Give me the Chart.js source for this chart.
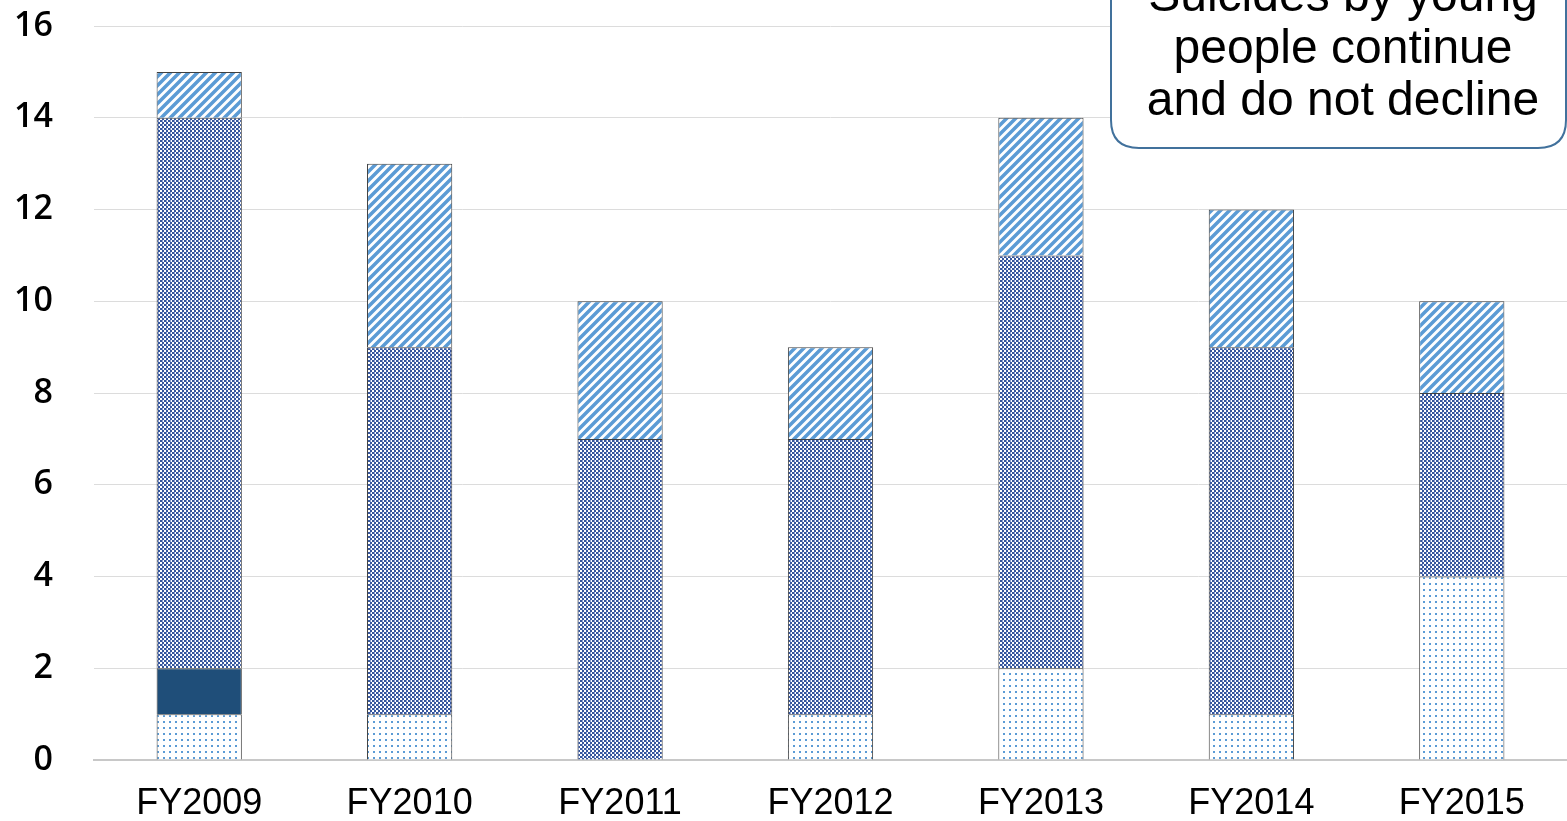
<!DOCTYPE html>
<html>
<head>
<meta charset="utf-8">
<script src="https://cdn.jsdelivr.net/npm/chart.js@4/dist/chart.umd.min.js"></script>
<style>
  html, body { margin: 0; padding: 0; background: #fff; }
  canvas { display: block; }
</style>
</head>
<body>
<canvas id="myChart" width="1567" height="821"></canvas>
<script>
const years = ['FY2009', 'FY2010', 'FY2011', 'FY2012', 'FY2013', 'FY2014', 'FY2015'];
const dotted = [1, 1, 0, 1, 2, 1, 4];
const solid = [1, 0, 0, 0, 0, 0, 0];
const checked = [12, 8, 7, 6, 9, 8, 4];
const striped = [1, 4, 3, 2, 3, 3, 2];
const calloutLines = ['Suicides by young', 'people continue', 'and do not decline'];

// little tiles for the hatch fills
function makePattern(size, paint) {
  const c = document.createElement('canvas');
  c.width = size;
  c.height = size;
  const g = c.getContext('2d');
  g.fillStyle = '#ffffff';
  g.fillRect(0, 0, size, size);
  paint(g);
  return c.getContext('2d').createPattern(c, 'repeat');
}

const ctx = document.getElementById('myChart').getContext('2d');

const dotFill = makePattern(6, g => {
  g.fillStyle = '#5b9bd5';
  g.fillRect(1, 1, 2, 2);
});
const checkFill = makePattern(4, g => {
  g.fillStyle = '#34559c';
  g.fillRect(0, 0, 2, 2);
  g.fillRect(2, 2, 2, 2);
  g.fillStyle = '#8a9fd2';
  g.fillRect(2, 0, 1, 2);
});
const stripeFill = makePattern(9, g => {
  g.strokeStyle = '#5b9bd5';
  g.lineWidth = 3.5;
  g.beginPath();
  g.moveTo(-2, 11); g.lineTo(11, -2);
  g.moveTo(-7, 7); g.lineTo(7, -7);
  g.moveTo(2, 16); g.lineTo(16, 2);
  g.stroke();
});

const callout = {
  id: 'callout',
  afterDraw(chart) {
    const c = chart.ctx;
    const x0 = 1111, y0 = -40, x1 = 1566, y1 = 148, r = 28;
    c.save();
    c.beginPath();
    c.moveTo(x0 + r, y0);
    c.lineTo(x1 - r, y0);
    c.quadraticCurveTo(x1, y0, x1, y0 + r);
    c.lineTo(x1, y1 - r);
    c.quadraticCurveTo(x1, y1, x1 - r, y1);
    c.lineTo(x0 + r, y1);
    c.quadraticCurveTo(x0, y1, x0, y1 - r);
    c.lineTo(x0, y0 + r);
    c.quadraticCurveTo(x0, y0, x0 + r, y0);
    c.closePath();
    c.fillStyle = '#ffffff';
    c.fill();
    c.lineWidth = 2;
    c.strokeStyle = '#41719c';
    c.stroke();
    c.fillStyle = '#000000';
    c.font = '48px "Liberation Sans", Arial, sans-serif';
    c.textAlign = 'center';
    c.textBaseline = 'alphabetic';
    calloutLines.forEach((t, i) => c.fillText(t, 1343, 11 + i * 52));
    c.restore();
  }
};

const border = '#404040';
const data = {
  labels: years,
  datasets: [
    {label: 'dotted', data: dotted, backgroundColor: dotFill, borderColor: border, borderWidth: 1},
    {label: 'solid', data: solid, backgroundColor: '#1f4e79', borderColor: border, borderWidth: 1},
    {label: 'checked', data: checked, backgroundColor: checkFill, borderColor: border, borderWidth: 1},
    {label: 'striped', data: striped, backgroundColor: stripeFill, borderColor: border, borderWidth: 1}
  ]
};

const config = {
  type: 'bar',
  data: data,
  options: {
    responsive: false,
    animation: false,
    barPercentage: 0.405,
    categoryPercentage: 1,
    layout: {
      padding: 0
    },
    plugins: {
      legend: {display: false},
      tooltip: {enabled: false}
    },
    scales: {
      x: {
        stacked: true,
        grid: {display: false, drawTicks: false},
        border: {display: true, color: '#c8c8c8', width: 2},
        ticks: {
          color: '#000',
          padding: 22,
          maxRotation: 0,
          font: {family: '"Liberation Sans", Arial, sans-serif', size: 36}
        },
        afterFit: scale => { scale.height = 61; }
      },
      y: {
        stacked: true,
        min: 0,
        max: 16,
        grid: {color: '#dcdcdc', lineWidth: 1, drawTicks: false},
        border: {display: false},
        ticks: {
          stepSize: 2,
          color: '#000',
          padding: 41,
          font: {family: '"Open Sans", "Noto Sans", sans-serif', size: 34, weight: '600'}
        },
        afterFit: scale => {
          scale.width = 94;
          scale.paddingTop = 26;
          scale.paddingBottom = 0;
        }
      }
    }
  },
  plugins: [callout]
};

new Chart(ctx, config);
</script>
</body>
</html>
